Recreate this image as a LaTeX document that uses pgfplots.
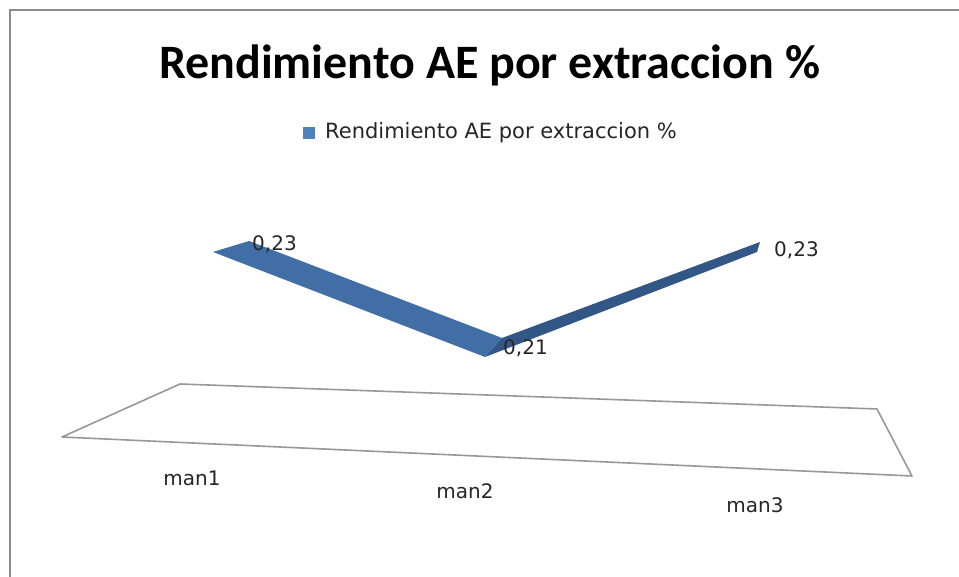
\documentclass[border=0pt]{standalone}
\usepackage{pgfplots}
\pgfplotsset{compat=1.18}
\usepackage{pgfplotstable}
\usepackage{fontspec}
\setmainfont{DejaVu Sans}
\newfontfamily\titlefont{Carlito}

\definecolor{ribbonA}{RGB}{66,110,166}
\definecolor{ribbonB}{RGB}{50,86,134}
\definecolor{legblue}{RGB}{79,129,189}
\definecolor{floorgray}{RGB}{152,152,152}
\definecolor{framegray}{RGB}{140,140,140}

% rendimiento por manantial, with label offsets (pt)
\pgfplotstableread{
cat val lx ly
1 0.23 39 7.5
2 0.21 18 8.5
3 0.23 17 2
}\rend

% ribbon faces: front edge (dx = dy = 0) and back edge shifted by the
% perspective depth offset of each category (data units)
\pgfplotstableread{
cat val dx dy
1 0.23 0 0
2 0.21 0 0
2 0.21 0.0625 0.003619
1 0.23 0.1324 0.002095
}\segA
\pgfplotstableread{
cat val dx dy
2 0.21 0 0
3 0.23 0 0
3 0.23 0.0110 0.001905
2 0.21 0.0625 0.003619
}\segB

\begin{document}
\begin{tikzpicture}[x=1pt,y=1pt]
\useasboundingbox (0,0) rectangle (959,577);
\fill[white] (0,0) rectangle (959,577);
% chart frame
\draw[framegray, line width=2pt] (10,0) -- (10,567) -- (959,567);
% floor of the 3-D plot area
\draw[floorgray, line width=1.6pt, line join=round]
  (62,140) -- (180,193) -- (877,168) -- (912,101) -- cycle;
\begin{axis}[
  at={(0,0)}, anchor=south west,
  scale only axis, width=959pt, height=577pt,
  xmin=0.216912, xmax=3.742647, ymin=0.168095, ymax=0.278,
  hide axis, clip=false,
]
\addplot[fill=ribbonA, draw=none]
  table[x expr=\thisrow{cat}+\thisrow{dx}, y expr=\thisrow{val}+\thisrow{dy}]{\segA};
\addplot[fill=ribbonB, draw=none]
  table[x expr=\thisrow{cat}+\thisrow{dx}, y expr=\thisrow{val}+\thisrow{dy}]{\segB};
\addplot[draw=none, mark=none, nodes near coords, point meta=explicit,
  visualization depends on={\thisrow{lx} \as \lx},
  visualization depends on={\thisrow{ly} \as \ly},
  /pgf/number format/assume math mode=true,
  /pgf/number format/use comma,
  /pgf/number format/fixed,
  /pgf/number format/fixed zerofill,
  /pgf/number format/precision=2,
  nodes near coords style={anchor=west, inner sep=0pt, xshift=\lx pt, yshift=\ly pt,
    font=\fontsize{20}{24}\selectfont, text=black!85}]
  table[x=cat, y=val, meta=val]{\rend};
\end{axis}
% title
\node[anchor=base, font=\titlefont\bfseries\fontsize{48}{56}\selectfont]
  at (489.5,498) {Rendimiento AE por extraccion \%};
% legend
\fill[legblue] (303,438) rectangle (315,450);
\node[anchor=base west, inner sep=0pt, font=\fontsize{21}{25}\selectfont, text=black!85]
  at (325,438) {Rendimiento AE por extraccion \%};
% category labels
\begin{scope}[every node/.style={anchor=base, inner sep=0pt, font=\fontsize{20}{24}\selectfont, text=black!85}]
\node at (192,91) {man1};
\node at (465,78) {man2};
\node at (755,64) {man3};
\end{scope}
\end{tikzpicture}
\end{document}
